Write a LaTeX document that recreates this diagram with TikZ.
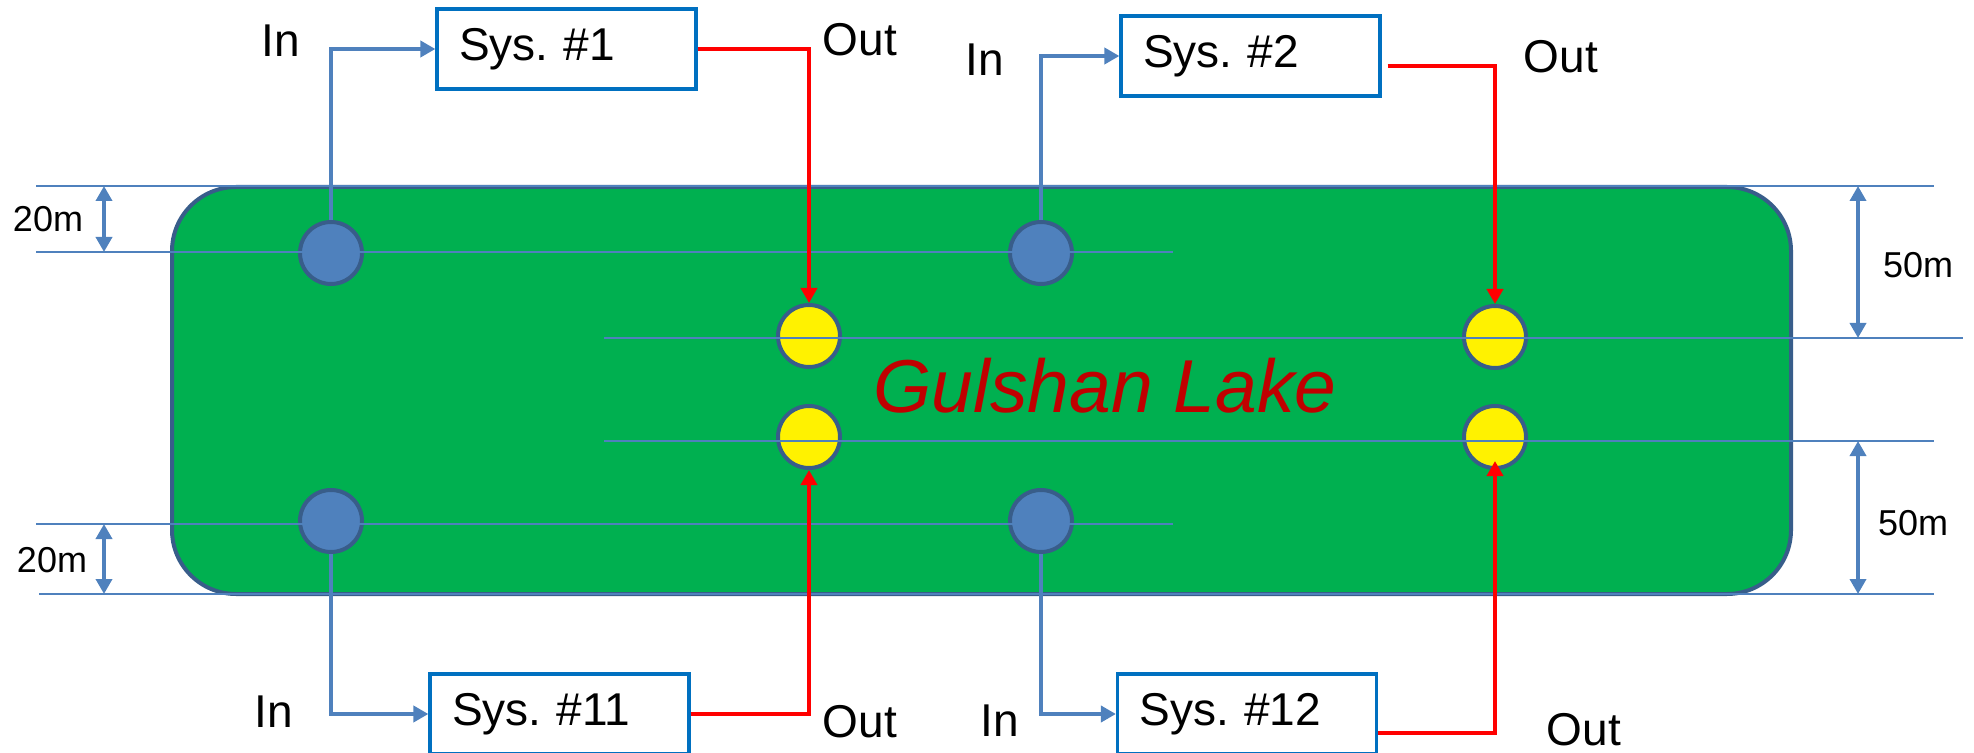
\documentclass[tikz,border=0pt]{standalone}
\usepackage{fontspec}
\setmainfont{Liberation Sans}
\usetikzlibrary{arrows.meta}
\definecolor{steel}{HTML}{4F81BD}
\definecolor{navyedge}{HTML}{385D8A}
\definecolor{lakegreen}{HTML}{00B050}
\definecolor{boxblue}{HTML}{0070C0}
\definecolor{pipered}{HTML}{FF0000}
\definecolor{lakered}{HTML}{C00000}
\frenchspacing
\tikzset{
  tip/.style={-{Triangle[length=7.5pt,width=8pt]}},
  lakeshape/.style={draw=navyedge, line width=2pt, fill=lakegreen, rounded corners=32pt},
  guide/.style={draw=steel, line width=1.2pt},
  dim/.style={draw=steel, line width=1.8pt, {Triangle[length=7.5pt,width=8pt]}-{Triangle[length=7.5pt,width=8pt]}},
  dimlabel/.style={font=\fontsize{18pt}{20pt}\selectfont, inner sep=0pt},
  lbl/.style={font=\fontsize{23pt}{26pt}\selectfont, inner sep=0pt},
  inwell/.style={circle, draw=navyedge, line width=2pt, fill=steel, minimum size=31pt, inner sep=0pt},
  outwell/.style={circle, draw=navyedge, line width=2pt, fill=yellow, minimum size=31pt, inner sep=0pt},
  sysbox/.style={draw=boxblue, line width=1.6pt, fill=white, minimum height=40pt,
    text width=107.5pt, inner xsep=11pt, align=left, font=\fontsize{23pt}{26pt}\selectfont},
  inpipe/.style={draw=steel, line width=2.4pt, tip},
  outpipe/.style={draw=pipered, line width=2.4pt, tip},
}
\begin{document}
\begin{tikzpicture}[x=0.5pt,y=-0.5pt]
\useasboundingbox (0,0) rectangle (1974,753);
% lake
\path[lakeshape] (172,187) rectangle (1791,594);
\node[font=\fontsize{37.5pt}{40pt}\selectfont\itshape, text=lakered, anchor=base, inner sep=0pt] (lakename) at (1105,412) {Gulshan Lake};
% wells
\node[inwell] (c1) at (331,253) {};
\node[inwell] (c2) at (1041,253) {};
\node[inwell] (c3) at (331,521) {};
\node[inwell] (c4) at (1041,521) {};
\node[outwell] (y1) at (809,336) {};
\node[outwell] (y2) at (1495,337) {};
\node[outwell] (y3) at (809,437) {};
\node[outwell] (y4) at (1495,437) {};
% guide lines
\coordinate (g1a) at (36,186);  \coordinate (g1b) at (1934,186);
\coordinate (g2a) at (36,252);  \coordinate (g2b) at (1173,252);
\coordinate (g3a) at (604,338); \coordinate (g3b) at (1963,338);
\coordinate (g4a) at (604,441); \coordinate (g4b) at (1934,441);
\coordinate (g5a) at (36,524);  \coordinate (g5b) at (1173,524);
\coordinate (g6a) at (39,594);  \coordinate (g6b) at (1934,594);
\foreach \i in {1,...,6} \draw[guide] (g\i a) -- (g\i b);
% dimensions
\coordinate (d1a) at (104,186); \coordinate (d1b) at (104,252);
\coordinate (d2a) at (104,524); \coordinate (d2b) at (104,594);
\coordinate (d3a) at (1858,186); \coordinate (d3b) at (1858,338);
\coordinate (d4a) at (1858,441); \coordinate (d4b) at (1858,594);
\foreach \i in {1,...,4} \draw[dim] (d\i a) -- (d\i b);
\node[dimlabel] (t1) at (48,219) {20m};
\node[dimlabel] (t2) at (52,560) {20m};
\node[dimlabel] (t3) at (1918,265) {50m};
\node[dimlabel] (t4) at (1913,523) {50m};
% systems
\node[sysbox] (s1) at (566.5,49) {Sys. \#1};
\node[sysbox] (s2) at (1250.5,56) {Sys. \#2};
\node[sysbox] (s11) at (559.5,714) {Sys. \#11};
\node[sysbox] (s12) at (1247,714) {Sys. \#12};
% pipes
\draw[inpipe] (c1.north) |- (s1.west);
\draw[inpipe] (c2.north) |- (s2.west);
\draw[inpipe] (c3.south) |- (s11.west);
\draw[inpipe] (c4.south) |- (s12.west);
\draw[outpipe] (s1.east) -| (y1.north);
\draw[outpipe] ([shift={(6,10)}]s2.east) -| (y2.north);
\draw[outpipe] (s11.east) -| (y3.south);
\draw[outpipe] ([shift={(0,19)}]s12.east) -| ([shift={(0,-9)}]y4.south);
% labels
\node[lbl] (in1) at (281,41) {In};
\node[lbl] (out1) at (860,40) {Out};
\node[lbl] (in2) at (985,60) {In};
\node[lbl] (out2) at (1561,57) {Out};
\node[lbl] (in11) at (274,712) {In};
\node[lbl] (out11) at (860,722) {Out};
\node[lbl] (in12) at (1000,721) {In};
\node[lbl] (out12) at (1584,730) {Out};
\end{tikzpicture}
\end{document}
